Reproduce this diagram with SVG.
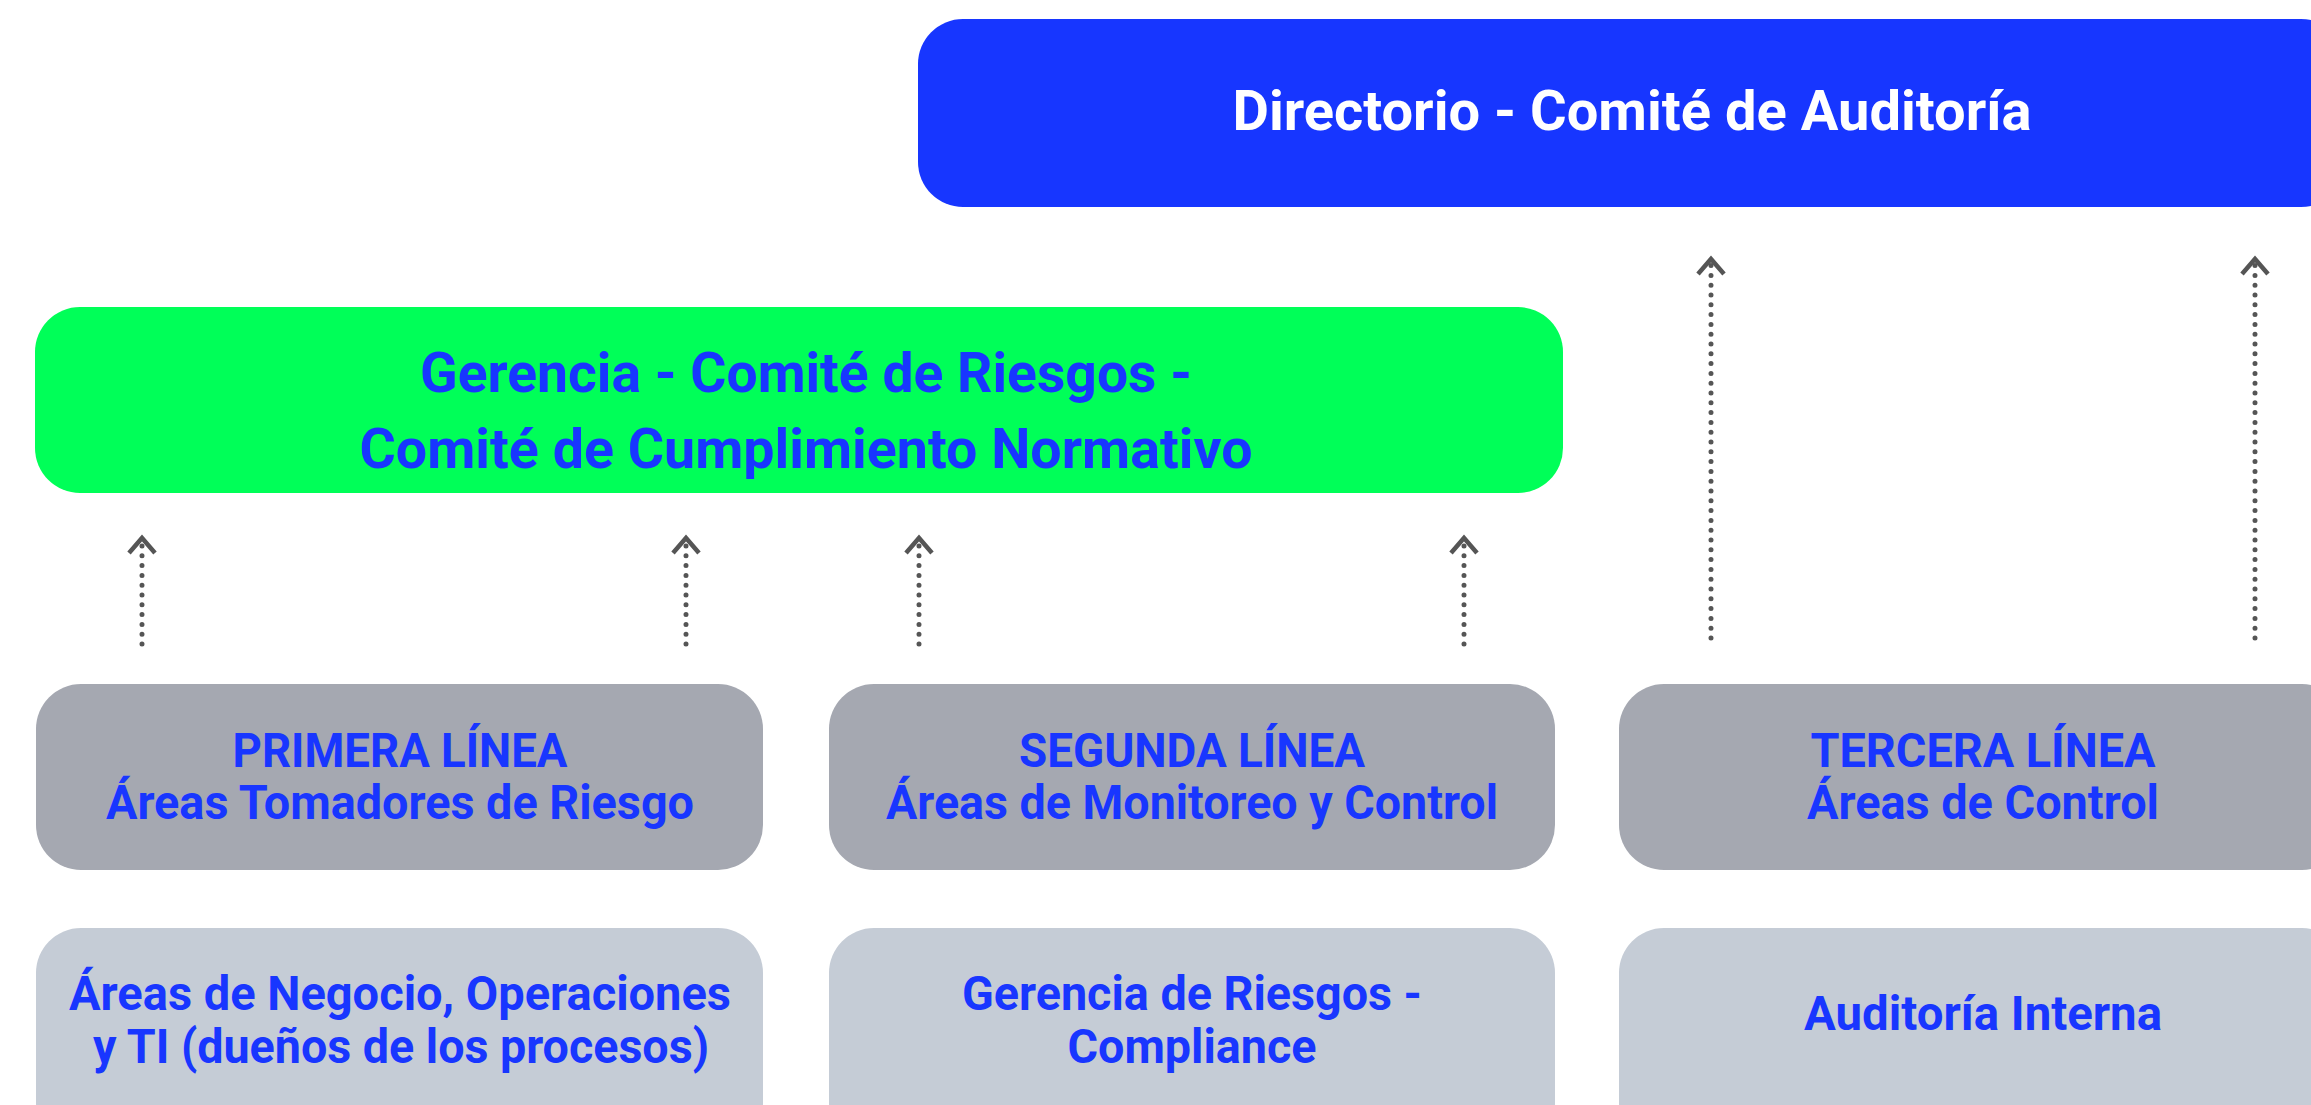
<svg xmlns="http://www.w3.org/2000/svg" width="2311" height="1105" viewBox="0 0 2311 1105">
<defs>
<style>
.t{font-family:Roboto,"Liberation Sans",sans-serif;font-weight:700;text-anchor:middle;fill:#1836FF}
.tw{fill:#FFFFFF}
.big{font-size:55px}
.mid{font-size:48px}
.dark{fill:#A5A8B1}
.light{fill:#C5CCD6}
.conn{stroke:#555555;stroke-width:5;stroke-linecap:round;stroke-dasharray:0 9.8;fill:none}
</style>
<marker id="chev" markerUnits="userSpaceOnUse" markerWidth="40" markerHeight="40" refX="0" refY="0" orient="auto" overflow="visible">
<path d="M -15 -13 L 0 0 L -15 13" fill="none" stroke="#555555" stroke-width="4.5" stroke-linecap="butt" stroke-linejoin="miter"/>
</marker>
</defs>
<rect width="2311" height="1105" fill="#FFFFFF"/>
<g id="directorio">
<rect x="918" y="19" width="1428" height="188" rx="45" fill="#1736FF"/>
<text class="t tw big" x="1632" y="130" textLength="799" lengthAdjust="spacingAndGlyphs">Directorio - Comité de Auditoría</text>
</g>
<g id="gerencia">
<rect x="35" y="307" width="1528" height="186" rx="45" fill="#00FF58"/>
<text class="t big" x="806" y="392" textLength="772" lengthAdjust="spacingAndGlyphs">Gerencia - Comité de Riesgos -</text>
<text class="t big" x="806" y="468" textLength="893" lengthAdjust="spacingAndGlyphs">Comité de Cumplimiento Normativo</text>
</g>
<g id="primera">
<rect class="dark" x="36" y="684" width="727" height="186" rx="45"/>
<text class="t mid" x="400" y="767" textLength="335" lengthAdjust="spacingAndGlyphs">PRIMERA LÍNEA</text>
<text class="t mid" x="400" y="819" textLength="588" lengthAdjust="spacingAndGlyphs">Áreas Tomadores de Riesgo</text>
</g>
<g id="segunda">
<rect class="dark" x="829" y="684" width="726" height="186" rx="45"/>
<text class="t mid" x="1192" y="767" textLength="346" lengthAdjust="spacingAndGlyphs">SEGUNDA LÍNEA</text>
<text class="t mid" x="1192" y="819" textLength="612" lengthAdjust="spacingAndGlyphs">Áreas de Monitoreo y Control</text>
</g>
<g id="tercera">
<rect class="dark" x="1619" y="684" width="728" height="186" rx="45"/>
<text class="t mid" x="1983" y="767" textLength="345" lengthAdjust="spacingAndGlyphs">TERCERA LÍNEA</text>
<text class="t mid" x="1983" y="819" textLength="352" lengthAdjust="spacingAndGlyphs">Áreas de Control</text>
</g>
<g id="negocio">
<rect class="light" x="36" y="928" width="727" height="220" rx="45"/>
<text class="t mid" x="400" y="1010" textLength="662" lengthAdjust="spacingAndGlyphs">Áreas de Negocio, Operaciones</text>
<text class="t mid" x="401" y="1063" textLength="616" lengthAdjust="spacingAndGlyphs">y TI (dueños de los procesos)</text>
</g>
<g id="riesgos">
<rect class="light" x="829" y="928" width="726" height="220" rx="45"/>
<text class="t mid" x="1192" y="1010" textLength="460" lengthAdjust="spacingAndGlyphs">Gerencia de Riesgos -</text>
<text class="t mid" x="1192" y="1063" textLength="249" lengthAdjust="spacingAndGlyphs">Compliance</text>
</g>
<g id="auditoria">
<rect class="light" x="1619" y="928" width="728" height="220" rx="45"/>
<text class="t mid" x="1983" y="1030" textLength="358" lengthAdjust="spacingAndGlyphs">Auditoría Interna</text>
</g>
<g id="connectors">
<path class="conn" d="M 142 644 L 142 538" marker-end="url(#chev)"/>
<path class="conn" d="M 686 644 L 686 538" marker-end="url(#chev)"/>
<path class="conn" d="M 919 644 L 919 538" marker-end="url(#chev)"/>
<path class="conn" d="M 1464 644 L 1464 538" marker-end="url(#chev)"/>
<path class="conn" d="M 1711 638 L 1711 259" marker-end="url(#chev)"/>
<path class="conn" d="M 2255 638 L 2255 259" marker-end="url(#chev)"/>
</g>
</svg>
